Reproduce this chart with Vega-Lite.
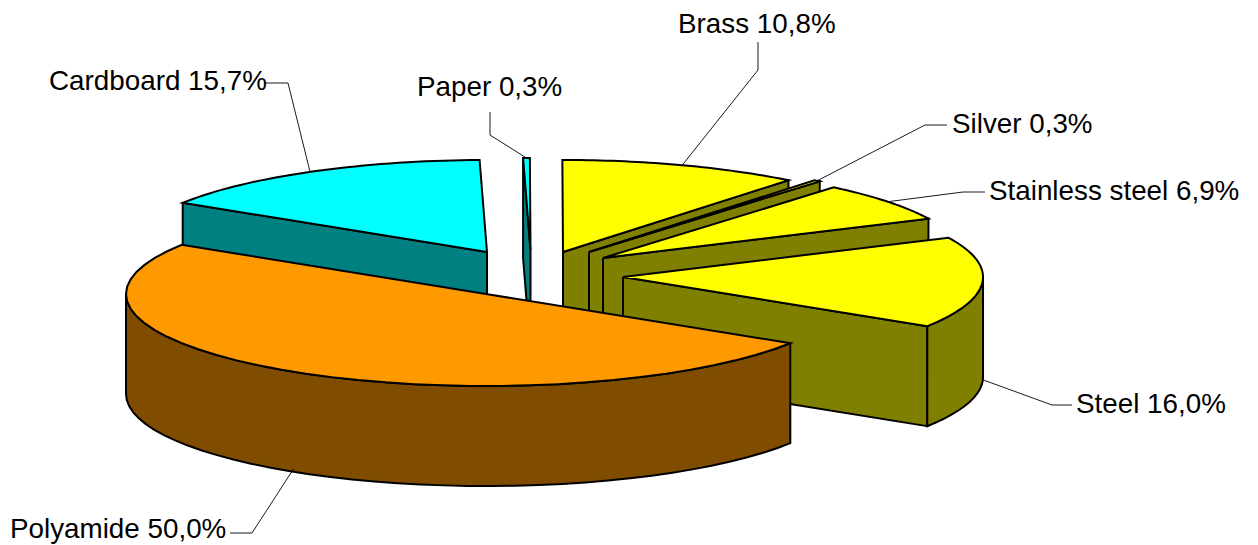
{
"$schema":"https://vega.github.io/schema/vega-lite/v6.json",
"width":1258,"height":545,
"autosize":{"type":"fit","contains":"padding"},
"padding":0,
"background":"white",
"view":{"stroke":null},
"config":{"font":"Liberation Sans"},
"data":{"values":[
{"material":"Cardboard","share":15.7},
{"material":"Paper","share":0.3},
{"material":"Brass","share":10.8},
{"material":"Silver","share":0.3},
{"material":"Stainless steel","share":6.9},
{"material":"Steel","share":16.0},
{"material":"Polyamide","share":50.0}
]},
"transform":[
{"window":[{"op":"sum","field":"share","as":"cum"}],"ignorePeers":true,"frame":[null,0]},
{"calculate":"(-147.7+3.6*datum.cum)*PI/180","as":"t1"},
{"calculate":"datum.t1-3.6*datum.share*PI/180","as":"t0"},
{"calculate":"(datum.t0+datum.t1)/2","as":"tm"},
{"calculate":"{'Cardboard':487,'Paper':530.5,'Brass':563,'Silver':589,'Stainless steel':603,'Steel':623,'Polyamide':486}[datum.material]","as":"cx"},
{"calculate":"{'Cardboard':252,'Paper':250,'Brass':252,'Silver':252,'Stainless steel':258,'Steel':277,'Polyamide':294}[datum.material]","as":"cy"}
],
"encoding":{
"x":{"field":"x","type":"quantitative","axis":null,"scale":{"domain":[0,1258],"nice":false,"zero":false}},
"y":{"field":"y","type":"quantitative","axis":null,"scale":{"domain":[545,0],"nice":false,"zero":false}}
},
"layer":[
{"transform":[
{"filter":"datum.material!='Polyamide'"},
{"calculate":"(datum.material=='Cardboard'||datum.material=='Paper')?datum.t0:datum.t1","as":"te"},
{"calculate":"sequence(0,5)","as":"k"},
{"flatten":["k"]},
{"calculate":"datum.cx+((datum.k==1||datum.k==2)?360*cos(datum.te):0)","as":"x"},
{"calculate":"datum.cy+((datum.k==1||datum.k==2)?92*sin(datum.te):0)+((datum.k==2||datum.k==3)?100:0)","as":"y"}
],
"mark":{"type":"line","stroke":"black","strokeWidth":2,"strokeJoin":"miter"},
"encoding":{"order":{"field":"k","type":"quantitative"},
"fill":{"field":"material","type":"nominal","legend":null,"scale":{"domain":["Cardboard","Paper","Brass","Silver","Stainless steel","Steel","Polyamide"],"range":["#008080","#008080","#808000","#808000","#808000","#808000","#804C00"]}}}
},
{"transform":[
{"calculate":"max(datum.t0,0)","as":"r0"},
{"calculate":"min(datum.t1,PI)","as":"r1"},
{"filter":"datum.r1>datum.r0"},
{"calculate":"sequence(0,81)","as":"k"},
{"flatten":["k"]},
{"calculate":"datum.k<40?datum.k/39:(datum.k<80?(79-datum.k)/39:0)","as":"u"},
{"calculate":"datum.r0+datum.u*(datum.r1-datum.r0)","as":"t"},
{"calculate":"datum.cx+360*cos(datum.t)","as":"x"},
{"calculate":"datum.cy+92*sin(datum.t)+((datum.k>=40&&datum.k<80)?100:0)","as":"y"}
],
"mark":{"type":"line","stroke":"black","strokeWidth":2,"strokeJoin":"miter"},
"encoding":{"order":{"field":"k","type":"quantitative"},
"fill":{"field":"material","type":"nominal","legend":null,"scale":{"domain":["Cardboard","Paper","Brass","Silver","Stainless steel","Steel","Polyamide"],"range":["#008080","#008080","#808000","#808000","#808000","#808000","#804C00"]}}}
},
{"transform":[
{"calculate":"sequence(0,42)","as":"k"},
{"flatten":["k"]},
{"calculate":"(datum.k-1)/39","as":"u"},
{"calculate":"datum.t0+datum.u*(datum.t1-datum.t0)","as":"t"},
{"calculate":"datum.cx+((datum.k==0||datum.k==41)?0:360*cos(datum.t))","as":"x"},
{"calculate":"datum.cy+((datum.k==0||datum.k==41)?0:92*sin(datum.t))","as":"y"}
],
"mark":{"type":"line","stroke":"black","strokeWidth":2,"strokeJoin":"miter"},
"encoding":{"order":{"field":"k","type":"quantitative"},
"fill":{"field":"material","type":"nominal","legend":null,"scale":{"domain":["Cardboard","Paper","Brass","Silver","Stainless steel","Steel","Polyamide"],"range":["#00FFFF","#00FFFF","#FFFF00","#FFFF00","#FFFF00","#FFFF00","#FF9900"]}}}
},
{"transform":[
{"calculate":"sequence(0,3)","as":"k"},
{"flatten":["k"]},
{"calculate":"{'Cardboard':[288,83,265,83],'Paper':[490,135,490,112],'Brass':[758,70,758,42],'Silver':[925,125,947,125],'Stainless steel':[963,192,985,192],'Steel':[1052,405,1072,405],'Polyamide':[252,533,230,533]}[datum.material]","as":"p"},
{"calculate":"datum.k==0?datum.cx+360*cos(datum.tm):datum.p[datum.k*2-2]","as":"x"},
{"calculate":"datum.k==0?datum.cy+92*sin(datum.tm)+(datum.tm>0?97:0):datum.p[datum.k*2-1]","as":"y"}
],
"mark":{"type":"line","stroke":"black","strokeWidth":0.9},
"encoding":{"order":{"field":"k","type":"quantitative"},"detail":{"field":"material","type":"nominal"}}
},
{"transform":[
{"calculate":"{'Cardboard':[49,82],'Paper':[417,88],'Brass':[678,25],'Silver':[952,125],'Stainless steel':[989,192],'Steel':[1076,405],'Polyamide':[10,530]}[datum.material]","as":"p"},
{"calculate":"datum.p[0]","as":"x"},
{"calculate":"datum.p[1]","as":"y"},
{"calculate":"datum.material+' '+replace(format(datum.share,'.1f'),'.',',')+'%'","as":"label"}
],
"mark":{"type":"text","align":"left","baseline":"middle","font":"Liberation Sans","fontSize":27.8,"color":"black"},
"encoding":{"text":{"field":"label","type":"nominal"}}
}
],
"resolve":{"scale":{"fill":"independent"}}
}
